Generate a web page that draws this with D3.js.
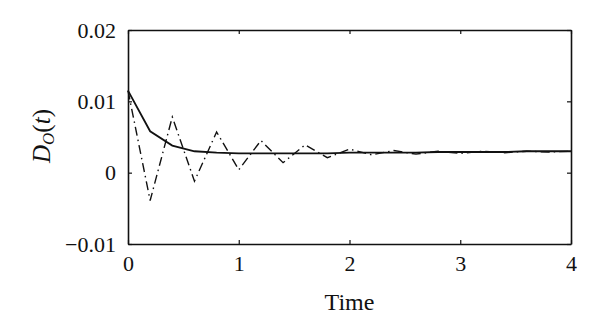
<!DOCTYPE html>
<html>
<head>
<meta charset="utf-8">
<script src="https://d3js.org/d3.v7.min.js"></script>
<style>
  body { margin: 0; background: #fff; }
  svg text { font-family: "Liberation Serif", "DejaVu Serif", serif; fill: #111; }
</style>
</head>
<body>
<div id="chart"></div>
<script>
// time samples (step 0.2)
var times = [0, 0.2, 0.4, 0.6, 0.8, 1.0, 1.2, 1.4, 1.6, 1.8, 2.0, 2.2, 2.4, 2.6, 2.8, 3.0, 3.2, 3.4, 3.6, 3.8, 4.0];
// solid curve
var solidValues = [0.0115, 0.0058, 0.0038, 0.0030, 0.0028, 0.0027, 0.0027, 0.0027, 0.0027, 0.0027, 0.0028,
                   0.0028, 0.0028, 0.0028, 0.0029, 0.0029, 0.0029, 0.0029, 0.0030, 0.0030, 0.0030];
// dash-dot curve
var dashDotValues = [0.0115, -0.0039, 0.0078, -0.0012, 0.0057, 0.0004, 0.0045, 0.0014, 0.0039, 0.0021, 0.0033,
                     0.0025, 0.0031, 0.0026, 0.0030, 0.0027, 0.0030, 0.0028, 0.0030, 0.0029, 0.0030];
var xTicks = [0, 1, 2, 3, 4];
var yTicks = [-0.01, 0, 0.01, 0.02];
var yTickLabels = ["\u22120.01", "0", "0.01", "0.02"];

var width = 600, height = 331;
var margin = {top: 30, right: 29, bottom: 87, left: 128};

var svg = d3.select("#chart").append("svg")
    .attr("width", width)
    .attr("height", height);

var x = d3.scaleLinear().domain([0, 4]).range([margin.left, width - margin.right]);
var y = d3.scaleLinear().domain([-0.01, 0.02]).range([height - margin.bottom, margin.top]);

var tickLen = 4;
var fontSize = 22;

// axes, ticks pointing inward on all four sides
var xAxisBottom = d3.axisBottom(x).tickValues(xTicks).tickSizeInner(-tickLen).tickSizeOuter(0)
    .tickPadding(9).tickFormat(d3.format("d"));
var xAxisTop = d3.axisTop(x).tickValues(xTicks).tickSizeInner(-tickLen).tickSizeOuter(0).tickFormat("");
var yAxisLeft = d3.axisLeft(y).tickValues(yTicks).tickSizeInner(-tickLen).tickSizeOuter(0)
    .tickPadding(12).tickFormat(function (d, i) { return yTickLabels[i]; });
var yAxisRight = d3.axisRight(y).tickValues(yTicks).tickSizeInner(-tickLen).tickSizeOuter(0).tickFormat("");

function styleAxis(g) {
    g.selectAll("path.domain").attr("stroke", "#111").attr("stroke-width", 1.6);
    g.selectAll(".tick line").attr("stroke", "#111").attr("stroke-width", 1.2);
    g.selectAll(".tick text").attr("font-size", fontSize).attr("fill", "#111")
        .style("font-family", '"Liberation Serif", "DejaVu Serif", serif');
}

svg.append("g").attr("transform", "translate(0," + y(-0.01) + ")").call(xAxisBottom).call(styleAxis)
    .selectAll(".tick text").attr("dy", "0.8em");
svg.append("g").attr("transform", "translate(0," + y(0.02) + ")").call(xAxisTop).call(styleAxis);
svg.append("g").attr("transform", "translate(" + x(0) + ",0)").call(yAxisLeft).call(styleAxis);
svg.append("g").attr("transform", "translate(" + x(4) + ",0)").call(yAxisRight).call(styleAxis);

// lines
var line = d3.line()
    .x(function (d, i) { return x(times[i]); })
    .y(function (d) { return y(d); });

svg.append("path")
    .datum(dashDotValues)
    .attr("fill", "none")
    .attr("stroke", "#111")
    .attr("stroke-width", 1.4)
    .attr("stroke-dasharray", "9,4,1.5,4")
    .attr("d", line);

svg.append("path")
    .datum(solidValues)
    .attr("fill", "none")
    .attr("stroke", "#111")
    .attr("stroke-width", 1.8)
    .attr("d", line);

// axis titles
svg.append("text")
    .attr("x", (x(0) + x(4)) / 2)
    .attr("y", 310)
    .attr("text-anchor", "middle")
    .attr("font-size", 24)
    .text("Time");

var yLabel = svg.append("text")
    .attr("transform", "translate(50," + 136 + ") rotate(-90)")
    .attr("text-anchor", "middle")
    .attr("font-size", 25);
yLabel.append("tspan").attr("font-style", "italic").text("D");
yLabel.append("tspan").attr("font-style", "italic").attr("font-size", 17).attr("dy", 4).text("O");
yLabel.append("tspan").attr("dy", -4).text("(");
yLabel.append("tspan").attr("font-style", "italic").text("t");
yLabel.append("tspan").text(")");
</script>
</body>
</html>
